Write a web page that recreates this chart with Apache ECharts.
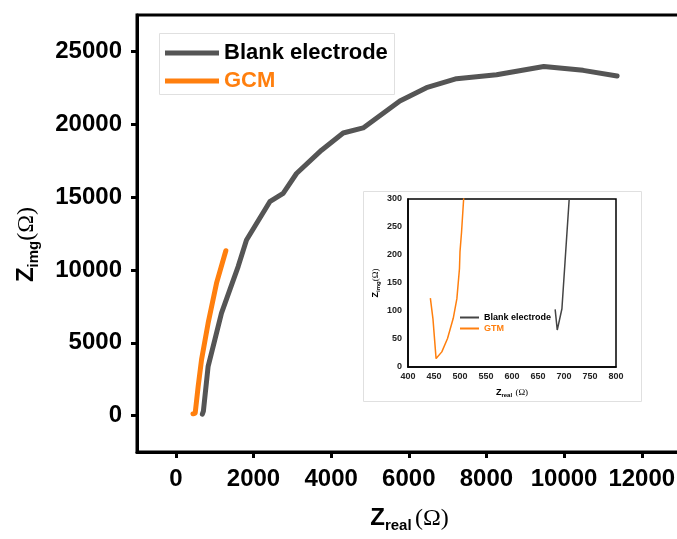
<!DOCTYPE html>
<html>
<head>
<meta charset="utf-8">
<script src="https://cdn.jsdelivr.net/npm/echarts@6/dist/echarts.min.js"></script>
<style>
html, body { margin: 0; padding: 0; background: #fff; }
#main { width: 677px; height: 539px; }
</style>
</head>
<body>
<div id="main"></div>
<script>
// Nyquist plot, main range + low-frequency zoom inset
var blankData = [
	[683, 103], [687, 66], [689, 67], [696, 104], [702, 188], [710, 300],
	[832, 3380], [1004, 5200], [1176, 7030], [1390, 8630], [1605, 10230],
	[1820, 12055], [2420, 14680], [2764, 15250], [3108, 16620], [3752, 18220],
	[4310, 19400], [4824, 19750], [5770, 21600], [6455, 22510], [7230, 23130],
	[8260, 23400], [9477, 23970], [10490, 23700], [11365, 23310]
];
var gcmData = [
	[443, 123], [448, 86], [454, 15], [457, 14], [465, 27], [476, 51],
	[487, 87], [494, 122], [499, 176], [500, 206], [503, 241], [507, 300],
	[575, 2000], [662, 3836], [832, 6350], [1048, 9090], [1288, 11320]
];
var xTicks = [0, 2000, 4000, 6000, 8000, 10000, 12000];
var yTicks = [0, 5000, 10000, 15000, 20000, 25000];

var chart = echarts.init(document.getElementById('main'));

var sans = 'Liberation Sans, Arial, sans-serif';
var serif = 'Liberation Serif, Times New Roman, serif';
var plain = function (v) { return String(v); };

var option = {
	animation: false,
	backgroundColor: '#fff',
	grid: [{
		left: 137, top: 15, width: 563, height: 437, outerBoundsMode: 'none',
		show: true, borderColor: '#000', borderWidth: 3
	}, {
		left: 408, top: 199, width: 208, height: 168, outerBoundsMode: 'none',
		show: true, borderColor: '#000', borderWidth: 1.5, z: 10
	}],
	graphic: [{
		type: 'rect', shape: { x: 159.5, y: 33.5, width: 235, height: 61 },
		style: { fill: '#fff', stroke: '#e0e0e0', lineWidth: 1 }, z: 1
	}, {
		type: 'rect', shape: { x: 363.5, y: 191.5, width: 278, height: 210 },
		style: { fill: '#fff', stroke: '#e0e0e0', lineWidth: 1 }, z: 5
	}],
	legend: [{
		orient: 'vertical', left: 160, top: 36, itemWidth: 54, itemHeight: 5,
		icon: 'rect', itemGap: 4,
		data: [
			{ name: 'Blank electrode', textStyle: { color: '#000' } },
			{ name: 'GCM', textStyle: { color: '#ff7f0e' } }
		],
		textStyle: { fontFamily: sans, fontWeight: 'bold', fontSize: 22, lineHeight: 24 },
		z: 20
	}, {
		orient: 'vertical', left: 455, top: 308, itemWidth: 19, itemHeight: 2,
		icon: 'rect', itemGap: 2,
		data: [
			{ name: 'Blank', textStyle: { color: '#000' } },
			{ name: 'GTM', textStyle: { color: '#ff7f0e' } }
		],
		formatter: function (n) { return n === 'Blank' ? 'Blank electrode' : n; },
		textStyle: { fontFamily: sans, fontWeight: 'bold', fontSize: 9, lineHeight: 9 },
		z: 20
	}],
	xAxis: [{
		gridIndex: 0, type: 'value', min: -1000, max: 13500, z: 6,
		splitLine: { show: false },
		axisLine: { onZero: false, lineStyle: { color: '#000', width: 3 } },
		axisTick: { customValues: xTicks, length: 6, lineStyle: { color: '#000', width: 3 } },
		axisLabel: {
			customValues: xTicks, margin: 15, color: '#000', formatter: plain,
			fontFamily: sans, fontWeight: 'bold', fontSize: 24
		},
		name: '{z|Z}{s|real} {o|(Ω)}', nameLocation: 'middle', nameGap: 52,
		nameTextStyle: {
			padding: [0, 18, 0, 0],
			rich: {
				z: { fontFamily: sans, fontWeight: 'bold', fontSize: 24, color: '#000' },
				s: { fontFamily: sans, fontWeight: 'bold', fontSize: 15, color: '#000', padding: [14, 0, 0, 0] },
				o: { fontFamily: serif, fontSize: 24, color: '#000' }
			}
		}
	}, {
		gridIndex: 1, type: 'value', min: 400, max: 800, interval: 50, z: 11,
		splitLine: { show: false },
		axisLine: { onZero: false, lineStyle: { color: '#000', width: 1.5 } },
		axisTick: { show: false },
		axisLabel: { margin: 5, color: '#222', fontFamily: sans, fontWeight: 'bold', fontSize: 9 },
		name: '{z|Z}{s|real} {o|(Ω)}', nameLocation: 'middle', nameGap: 20,
		nameTextStyle: {
			rich: {
				z: { fontFamily: sans, fontWeight: 'bold', fontSize: 9, color: '#000' },
				s: { fontFamily: sans, fontWeight: 'bold', fontSize: 6, color: '#000', padding: [5, 0, 0, 0] },
				o: { fontFamily: serif, fontSize: 9, color: '#000' }
			}
		}
	}],
	yAxis: [{
		gridIndex: 0, type: 'value', min: -2500, max: 27500, z: 6,
		splitLine: { show: false },
		axisLine: { onZero: false, lineStyle: { color: '#000', width: 3 } },
		axisTick: { customValues: yTicks, length: 6, lineStyle: { color: '#000', width: 3 } },
		axisLabel: {
			customValues: yTicks, margin: 15, color: '#000', formatter: plain,
			fontFamily: sans, fontWeight: 'bold', fontSize: 24
		},
		name: '{z|Z}{s|img}{o|(Ω)}', nameLocation: 'middle', nameGap: 96,
		nameTextStyle: {
			padding: [0, 22, 0, 0],
			rich: {
				z: { fontFamily: sans, fontWeight: 'bold', fontSize: 24, color: '#000' },
				s: { fontFamily: sans, fontWeight: 'bold', fontSize: 15, color: '#000', padding: [14, 0, 0, 0] },
				o: { fontFamily: serif, fontSize: 24, color: '#000' }
			}
		}
	}, {
		gridIndex: 1, type: 'value', min: 0, max: 300, interval: 50, z: 11,
		splitLine: { show: false },
		axisLine: { onZero: false, lineStyle: { color: '#000', width: 1.5 } },
		axisTick: { show: false },
		axisLabel: { margin: 6, color: '#222', fontFamily: sans, fontWeight: 'bold', fontSize: 9 },
		name: '{z|Z}{s|img}{o|(Ω)}', nameLocation: 'middle', nameGap: 27,
		nameTextStyle: {
			rich: {
				z: { fontFamily: sans, fontWeight: 'bold', fontSize: 9, color: '#000' },
				s: { fontFamily: sans, fontWeight: 'bold', fontSize: 6, color: '#000', padding: [5, 0, 0, 0] },
				o: { fontFamily: serif, fontSize: 9, color: '#000' }
			}
		}
	}],
	series: [{
		name: 'Blank electrode', type: 'line', xAxisIndex: 0, yAxisIndex: 0,
		data: blankData, showSymbol: false, color: '#555555',
		lineStyle: { width: 5, color: '#555555', cap: 'round', join: 'round' }, z: 3
	}, {
		name: 'GCM', type: 'line', xAxisIndex: 0, yAxisIndex: 0,
		data: gcmData, showSymbol: false, color: '#ff7f0e',
		lineStyle: { width: 5, color: '#ff7f0e', cap: 'round', join: 'round' }, z: 3
	}, {
		name: 'Blank', type: 'line', xAxisIndex: 1, yAxisIndex: 1,
		data: blankData, showSymbol: false, color: '#444',
		lineStyle: { width: 1.5, color: '#444' }, z: 12
	}, {
		name: 'GTM', type: 'line', xAxisIndex: 1, yAxisIndex: 1,
		data: gcmData, showSymbol: false, color: '#ff7f0e',
		lineStyle: { width: 1.5, color: '#ff7f0e' }, z: 12
	}]
};
chart.setOption(option);
</script>
</body>
</html>
